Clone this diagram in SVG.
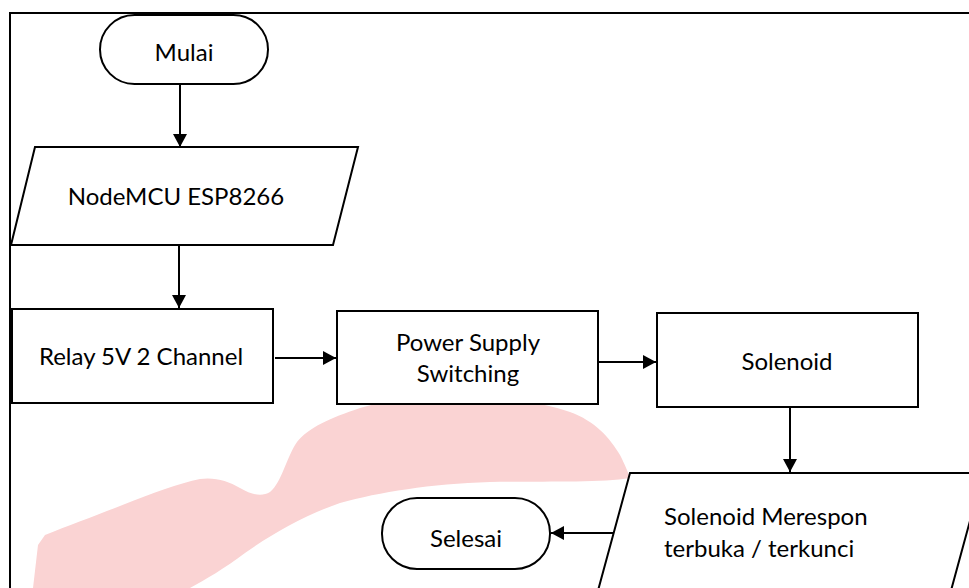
<svg xmlns="http://www.w3.org/2000/svg" width="969" height="588" viewBox="0 0 969 588">
<defs>
<marker id="arr" markerWidth="14" markerHeight="14" refX="13" refY="7" orient="auto" markerUnits="userSpaceOnUse">
<path d="M0,0 L13,7 L0,14 Z" fill="#000"/>
</marker>
<style>
.shape{fill:#fff;stroke:#000;stroke-width:2}
.t{font-family:Lato,"Liberation Sans",sans-serif;font-size:24px;fill:#000}
.c{text-anchor:middle}
.conn line{stroke:#000;stroke-width:2;marker-end:url(#arr)}
</style>
</defs>
<rect width="969" height="588" fill="#fff"/>
<g id="watermark">
<path d="M33,588 L38,545 L45,535 C70,525 100,514 125,504 C150,494 180,483 200,479 C215,477 228,481 240,488 C252,495 262,497 270,492 C282,482 286,458 297,442 C308,428 330,418 360,408 C390,399 420,396 460,396 C510,397 545,403 570,412 C595,421 610,438 620,455 C625,465 628,472 630,478 C600,483 540,481 490,482 C430,484 380,492 340,503 C305,515 275,532 245,553 C225,568 205,580 190,588 Z" fill="#fad3d3"/>
</g>
<g id="frame" stroke="#000" stroke-width="2" fill="none">
<line x1="10" y1="13" x2="969" y2="13"/>
<line x1="10" y1="12" x2="10" y2="588"/>
</g>
<g class="conn" id="connectors">
<line x1="180" y1="84" x2="180" y2="147"/>
<line x1="179" y1="245" x2="179" y2="308"/>
<line x1="275" y1="358" x2="336" y2="358"/>
<line x1="598" y1="362" x2="656" y2="362"/>
<line x1="790" y1="407" x2="790" y2="472"/>
<line x1="613" y1="533" x2="551" y2="533"/>
</g>
<g id="mulai">
<rect class="shape" x="100" y="15" width="168" height="69" rx="34.5" ry="34.5"/>
<text class="t c" x="184" y="61">Mulai</text>
</g>
<g id="nodemcu">
<polygon class="shape" points="35,147 358,147 333,245 11,245"/>
<text class="t c" x="176" y="205">NodeMCU ESP8266</text>
</g>
<g id="relay">
<rect class="shape" x="12" y="309" width="261" height="94"/>
<text class="t c" x="141" y="365">Relay 5V 2 Channel</text>
</g>
<g id="power">
<rect class="shape" x="337" y="311" width="261" height="93"/>
<text class="t c" x="468" y="351">Power Supply</text>
<text class="t c" x="468" y="382">Switching</text>
</g>
<g id="solenoid">
<rect class="shape" x="657" y="313" width="261" height="94"/>
<text class="t c" x="787" y="370">Solenoid</text>
</g>
<g id="respon">
<polygon class="shape" points="630,473 983,473 943,620 590,620"/>
<text class="t" x="664" y="525">Solenoid Merespon</text>
<text class="t" x="664" y="557">terbuka / terkunci</text>
</g>
<g id="selesai">
<rect class="shape" x="382" y="498" width="168" height="71" rx="35" ry="35"/>
<text class="t c" x="466" y="547">Selesai</text>
</g>
</svg>
